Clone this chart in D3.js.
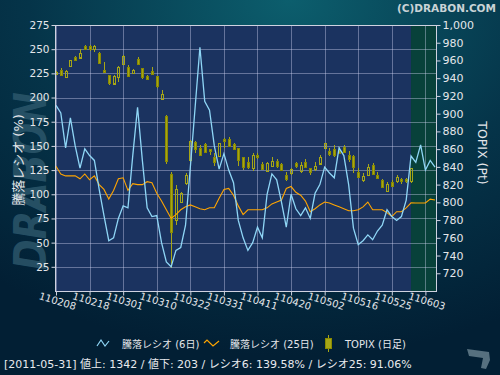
<!DOCTYPE html>
<html>
<head>
<meta charset="utf-8">
<script src="https://cdn.jsdelivr.net/npm/d3@7"></script>
<style>
body { margin: 0; background: #021e33; }
svg text { font-family: "DejaVu Sans", "Noto Sans CJK JP", sans-serif; }
</style>
</head>
<body>
<script>

// 騰落レシオ (6日 / 25日), one value per trading day from 2011-02-08
var ratio6 = [192, 184, 148, 179, 150, 127, 147, 140, 135, 105,
              78, 52, 55, 75, 88, 86, 140, 190, 135, 86,
              77, 78, 50, 30, 25, 42, 45, 68, 128, 190,
              252, 196, 187, 150, 126, 142, 125, 112, 73, 55,
              42, 50, 66, 55, 100, 121, 115, 92, 66, 100,
              85, 78, 86, 75, 101, 110, 128, 122, 117, 148,
              140, 110, 65, 48, 52, 58, 53, 62, 68, 84,
              77, 73, 77, 94, 139.58, 133, 151, 125, 135, 128];
var ratio25 = [129, 121, 119, 119, 119, 116, 121, 115, 119, 110,
               105, 95, 104, 116, 117, 104, 111, 110, 110, 113,
               112, 101, 93, 84, 75, 79, 84, 87, 89, 87,
               85, 84, 86, 86, 96, 105, 106, 99, 88, 79,
               84, 84, 84, 84, 86, 90, 92, 94, 106, 108,
               102, 99, 93, 82, 85, 89, 92, 91, 89, 87,
               85, 83, 83, 84, 87, 92, 84, 84, 84, 81,
               77, 82, 82, 86, 91.06, 91, 91, 91, 95, 94];

// TOPIX daily candles
var topixOpen = [945, 949.2, 941.7, 954.1, 963.6, 963.6, 976.3, 976.3, 973.2, 968.8,
                 949.2, 943.6, 934.2, 941.7, 956, 953, 945.5, 962, 951.2, 942.5,
                 948.5, 942.5, 916.2, 897.4, 832, 780, 800.4, 821.5, 848, 868.4,
                 861, 865.8, 859.8, 851.5, 851.5, 871.4, 871, 865.8, 861, 850.8,
                 845.8, 838.4, 853.4, 843.2, 835.7, 840.8, 847, 843.2, 830.8, 832.7,
                 844, 835.7, 845.8, 838.4, 837.3, 844, 861, 858.2, 860, 859,
                 862.8, 853.4, 852.3, 834.6, 825.2, 830.8, 842.1, 830.8, 825.2, 812.8,
                 823.3, 823.3, 826, 826, 823.3];
var topixHigh = [948, 951.8, 949.2, 961, 965, 972.6, 977.4, 977, 977, 969.9,
                 958.6, 944, 943.6, 953.5, 966, 954.9, 950, 964.3, 951.5, 943.6,
                 953, 943, 926.7, 898, 834.2, 819, 812, 832.7, 870, 869,
                 865, 866.5, 860.5, 856, 867, 872, 874, 866.5, 861.5, 851.5,
                 851, 855.6, 855.6, 845.5, 846, 850.8, 849, 844, 834.2, 838.5,
                 845.8, 845.5, 848.5, 839, 845.8, 853.4, 867, 861, 864.7, 862.4,
                 864.7, 857.9, 853, 838.7, 832.7, 843.2, 844.4, 834.5, 826, 823.3,
                 825, 830.8, 827, 827, 839];
var topixLow = [944, 942.5, 941, 953, 959.7, 963, 971.8, 971, 969.9, 956.8,
                946.2, 932.3, 933.5, 936.1, 955, 942, 945, 954.9, 938.8, 938,
                943.6, 928.6, 915.4, 843.6, 726, 774.4, 799, 820, 846, 855.3,
                852, 856, 853.4, 841, 851, 861, 862, 858.5, 841, 837,
                837.6, 835.3, 849, 836.5, 835, 840, 838.7, 835, 824, 830.8,
                838.4, 832.7, 839.5, 830.8, 835.7, 843, 860, 852.3, 851.5, 854,
                856, 845.5, 833.4, 827.4, 823.3, 830, 831, 826.5, 816, 812,
                817, 822, 820.3, 822, 821.8];
var topixClose = [947, 943.6, 948.1, 960.5, 960.5, 968.8, 972.6, 972.6, 976.5, 957.5,
                  946.7, 934.2, 942.8, 953, 965, 942.5, 949.2, 956, 941, 939.1,
                  944.7, 931.2, 922.2, 846.6, 766.9, 815, 810.5, 830.8, 869, 861,
                  853.4, 857.1, 857.1, 845.8, 866.6, 869.5, 862.7, 859.8, 847.7, 839.5,
                  840.2, 853.4, 850.8, 837.6, 844.7, 847, 840.8, 836.5, 826, 837.6,
                  841, 842, 840.2, 833.4, 841, 851.5, 866.6, 855.3, 853.4, 855.3,
                  857.1, 848.5, 840.2, 828.9, 829.7, 840.2, 832, 827.8, 817, 820.7,
                  818.4, 828.2, 823.3, 823.3, 838.4];

var tickDays = [0, 7, 14, 21, 28, 35, 42, 49, 56, 63, 70, 77];
var tickLabels = ["110208", "110218", "110301", "110310", "110322", "110331",
                  "110411", "110420", "110502", "110516", "110525", "110603"];
var leftTicks = [25, 50, 75, 100, 125, 150, 175, 200, 225, 250, 275];
var rightTicks = [720, 740, 760, 780, 800, 820, 840, 860, 880, 900, 920, 940, 960, 980, 1000];

var lastDay = 74;
var lastDate = "2011-05-31";
var advances = 1342, declines = 203;

var w = 500, h = 375;
var L = 55.5, R = 436.5, T = 25, B = 291;

var svg = d3.select("body").append("svg")
  .attr("width", w)
  .attr("height", h);

var defs = svg.append("defs");
var bg = defs.append("radialGradient").attr("id", "bg")
  .attr("cx", "58%").attr("cy", "0%").attr("r", "95%");
bg.append("stop").attr("offset", "0%").attr("stop-color", "#0c5e6d");
bg.append("stop").attr("offset", "55%").attr("stop-color", "#053449");
bg.append("stop").attr("offset", "100%").attr("stop-color", "#021f34");

svg.append("rect").attr("width", w).attr("height", h).attr("fill", "url(#bg)");

// watermark
svg.append("text")
  .attr("transform", "translate(46,181) rotate(-90)")
  .attr("text-anchor", "middle")
  .attr("font-size", 44)
  .attr("font-weight", "bold")
  .attr("font-style", "italic")
  .attr("textLength", 178)
  .attr("lengthAdjust", "spacingAndGlyphs")
  .attr("fill", "#2f5a6e")
  .attr("fill-opacity", 0.8)
  .text("DRABON");

svg.append("text")
  .attr("x", 496).attr("y", 12)
  .attr("text-anchor", "end")
  .attr("font-size", 10.5)
  .attr("font-weight", "bold")
  .attr("fill", "#c9d3d6")
  .text("(C)DRABON.COM");

var xs = d3.scaleLinear().domain([0, 79]).range([56, 435]);
var yL = d3.scaleLinear().domain([0, 275]).range([B, T]);
var yR = d3.scaleLinear().domain([700, 1000]).range([B, T]);

// plot area
svg.append("rect")
  .attr("x", L).attr("y", T)
  .attr("width", R - L).attr("height", B - T)
  .attr("fill", "#1b3360");
svg.append("rect")
  .attr("x", xs(lastDay)).attr("y", T)
  .attr("width", R - xs(lastDay)).attr("height", B - T)
  .attr("fill", "#08413a");

var grid = svg.append("g")
  .attr("stroke", "#d4d8f4")
  .attr("stroke-opacity", 0.4)
  .attr("shape-rendering", "crispEdges");
grid.selectAll("line.h")
  .data(leftTicks)
  .enter()
  .append("line")
  .attr("class", "h")
  .attr("x1", L).attr("x2", R)
  .attr("y1", function(d) { return Math.round(yL(d)) + 0.5; })
  .attr("y2", function(d) { return Math.round(yL(d)) + 0.5; });
grid.selectAll("line.v")
  .data(tickDays)
  .enter()
  .append("line")
  .attr("class", "v")
  .attr("y1", T).attr("y2", B)
  .attr("x1", function(d) { return Math.round(xs(d)) + 0.5; })
  .attr("x2", function(d) { return Math.round(xs(d)) + 0.5; });

// candles
var candles = topixOpen.map(function(o, i) {
  return { i: i, o: o, h: topixHigh[i], l: topixLow[i], c: topixClose[i] };
});
var cg = svg.append("g").attr("shape-rendering", "crispEdges");
var olive = "#a6a616", oliveDark = "#8a8a00";
cg.selectAll("line.hi")
  .data(candles)
  .enter()
  .append("line")
  .attr("class", "hi")
  .attr("x1", function(d) { return Math.round(xs(d.i)) + 0.5; })
  .attr("x2", function(d) { return Math.round(xs(d.i)) + 0.5; })
  .attr("y1", function(d) { return yR(d.h); })
  .attr("y2", function(d) { return yR(Math.max(d.o, d.c)); })
  .attr("stroke", olive);
cg.selectAll("line.lo")
  .data(candles)
  .enter()
  .append("line")
  .attr("class", "lo")
  .attr("x1", function(d) { return Math.round(xs(d.i)) + 0.5; })
  .attr("x2", function(d) { return Math.round(xs(d.i)) + 0.5; })
  .attr("y1", function(d) { return yR(Math.min(d.o, d.c)); })
  .attr("y2", function(d) { return yR(d.l); })
  .attr("stroke", olive);
cg.selectAll("rect")
  .data(candles)
  .enter()
  .append("rect")
  .attr("x", function(d) { return Math.round(xs(d.i)) - 0.5; })
  .attr("width", 2)
  .attr("y", function(d) { return Math.round(yR(Math.max(d.o, d.c))) + 0.5; })
  .attr("height", function(d) { return Math.max(1, Math.round(Math.abs(yR(d.o) - yR(d.c)))); })
  .attr("fill", function(d) { return d.c < d.o ? olive : "none"; })
  .attr("stroke", function(d) { return d.c < d.o ? oliveDark : olive; });

// ratio lines
var ratioLine = d3.line()
  .x(function(d, i) { return xs(i); })
  .y(function(d) { return yL(d); });
svg.append("path")
  .attr("d", ratioLine(ratio25))
  .attr("fill", "none")
  .attr("stroke", "#ffa500")
  .attr("stroke-width", 1.1);
svg.append("path")
  .attr("d", ratioLine(ratio6))
  .attr("fill", "none")
  .attr("stroke", "#8fd6f6")
  .attr("stroke-width", 1.3);

// frame
svg.append("rect")
  .attr("x", L).attr("y", T + 0.5)
  .attr("width", R - L).attr("height", B - T)
  .attr("fill", "none")
  .attr("stroke", "#cfd2e0")
  .attr("shape-rendering", "crispEdges");

// axes
var axL = svg.append("g")
  .attr("transform", "translate(" + L + ",0)")
  .call(d3.axisLeft(yL).tickValues(leftTicks).tickSize(4).tickSizeOuter(0).tickPadding(2));
var axR = svg.append("g")
  .attr("transform", "translate(" + R + ",0)")
  .call(d3.axisRight(yR).tickValues(rightTicks).tickFormat(d3.format(",")).tickSize(4).tickSizeOuter(0).tickPadding(2));
var axB = svg.append("g")
  .attr("transform", "translate(0," + (B + 0.5) + ")")
  .call(d3.axisBottom(xs).tickValues(tickDays).tickSize(4).tickSizeOuter(0)
    .tickFormat(function(d, i) { return tickLabels[i]; }));

[axL, axR, axB].forEach(function(a) {
  a.select(".domain").remove();
  a.selectAll("line").attr("stroke", "#cfd2e0");
  a.selectAll("text")
    .attr("fill", "#e4e6ea")
    .attr("font-size", 11)
    .attr("font-family", null);
});
axL.selectAll("text").attr("font-size", 10.5);
axB.selectAll("text")
  .attr("y", 0)
  .attr("dy", 0)
  .attr("font-size", 10)
  .attr("text-anchor", "middle")
  .attr("transform", "translate(0,13) rotate(17)");

svg.append("text")
  .attr("transform", "translate(23,160) rotate(-90)")
  .attr("text-anchor", "middle")
  .attr("font-size", 13)
  .attr("fill", "#e4e6ea")
  .text("騰落レシオ (%)");
svg.append("text")
  .attr("transform", "translate(478,153) rotate(90)")
  .attr("text-anchor", "middle")
  .attr("font-size", 12.5)
  .attr("fill", "#e4e6ea")
  .text("TOPIX (Pt)");

// legend
var lg = svg.append("g").attr("font-size", 10).attr("fill", "#e4e6ea");
lg.append("path")
  .attr("d", "M97,346L101,340L105,346L109,341")
  .attr("fill", "none").attr("stroke", "#8fd6f6").attr("stroke-width", 1.2);
lg.append("text").attr("x", 122).attr("y", 348).text("騰落レシオ (6日)");
lg.append("path")
  .attr("d", "M204,343L207,340L213,346L219,341")
  .attr("fill", "none").attr("stroke", "#ffa500").attr("stroke-width", 1.2);
lg.append("text").attr("x", 230).attr("y", 348).text("騰落レシオ (25日)");
lg.append("line")
  .attr("x1", 328.5).attr("x2", 328.5).attr("y1", 335).attr("y2", 352)
  .attr("stroke", olive);
lg.append("rect")
  .attr("x", 325.5).attr("y", 338.5).attr("width", 6).attr("height", 10)
  .attr("fill", olive).attr("stroke", oliveDark);
lg.append("text").attr("x", 345).attr("y", 348).text("TOPIX (日足)");

// status line
svg.append("text")
  .attr("x", 4).attr("y", 368)
  .attr("font-size", 11)
  .attr("fill", "#e8eaee")
  .text("[" + lastDate + "]  値上: " + advances + " / 値下: " + declines +
        " / レシオ6: " + ratio6[lastDay].toFixed(2) + "% / レシオ25: " + ratio25[lastDay].toFixed(2) + "%");

// corner logo
svg.append("path")
  .attr("d", "M467,349L489,352L490,360L486,369L481,368L483,358L469,356Z")
  .attr("fill", "#56707f");

</script>
</body>
</html>
